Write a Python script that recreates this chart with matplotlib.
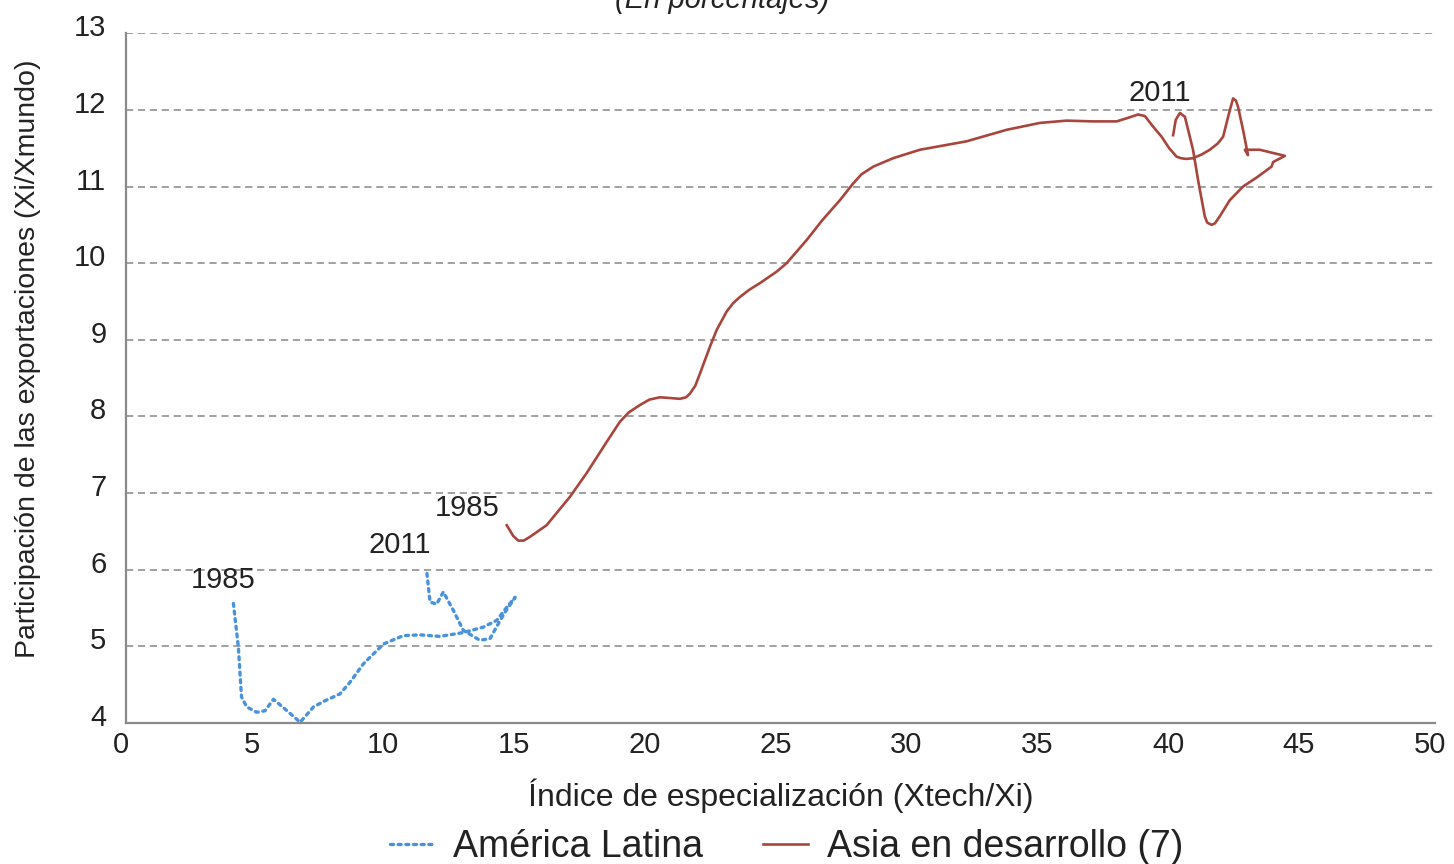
#!/usr/bin/env python

import matplotlib
matplotlib.use("Agg")
from matplotlib import pyplot as plt
from matplotlib.transforms import ScaledTranslation

## America Latina (1985 -> 2011)
la_x = [4.11, 4.30, 4.42, 4.62, 5.00, 5.32, 5.64, 6.09, 6.66, 7.17, 7.61, 8.18,
        8.56, 9.07, 9.84, 10.60, 11.24, 12.00, 12.89, 13.65, 14.17, 14.55, 14.87,
        14.55, 14.30, 13.91, 13.52, 12.89, 12.51, 12.13, 11.87, 11.62, 11.49]
la_y = [5.56, 4.99, 4.34, 4.21, 4.14, 4.16, 4.31, 4.18, 4.01, 4.21, 4.29, 4.38,
        4.53, 4.77, 5.03, 5.14, 5.15, 5.13, 5.18, 5.25, 5.34, 5.51, 5.64,
        5.48, 5.34, 5.10, 5.08, 5.21, 5.47, 5.71, 5.55, 5.58, 5.99]

## Asia en desarrollo (1985 -> 2011)
asia_x = [14.55, 14.80, 14.99, 15.20, 15.44, 16.07, 16.96, 17.60, 18.37, 18.87,
          19.20, 19.64, 20.00, 20.40, 20.80, 21.17, 21.40, 21.55, 21.75, 21.93,
          22.31, 22.57, 22.95, 23.20, 23.46, 23.80, 24.22, 24.86, 25.24, 25.62,
          26.00, 26.60, 27.27, 27.78, 28.10, 28.55, 29.31, 30.33, 32.11, 33.64,
          34.91, 35.93, 36.95, 37.84, 38.22, 38.66, 38.92, 39.24, 39.56, 39.85,
          40.13, 40.30, 40.50, 40.76, 41.10, 41.40, 41.70, 41.91, 42.10, 42.29,
          42.40, 42.48, 42.67, 42.86, 42.74, 43.31, 44.27, 43.82, 43.76, 43.20,
          42.67, 42.16, 41.78, 41.60, 41.47, 41.30, 41.21, 40.95, 40.76, 40.45,
          40.26, 40.10, 40.00]
asia_y = [6.58, 6.44, 6.38, 6.38, 6.43, 6.58, 6.95, 7.26, 7.67, 7.93,
          8.05, 8.15, 8.22, 8.25, 8.24, 8.23, 8.25, 8.30, 8.40, 8.56,
          8.91, 9.13, 9.37, 9.48, 9.56, 9.65, 9.74, 9.89, 10.00, 10.15,
          10.30, 10.56, 10.82, 11.04, 11.16, 11.26, 11.37, 11.48, 11.59, 11.74,
          11.83, 11.86, 11.85, 11.85, 11.89, 11.94, 11.92, 11.78, 11.65, 11.50,
          11.39, 11.37, 11.36, 11.37, 11.42, 11.48, 11.56, 11.65, 11.91, 12.15,
          12.12, 12.04, 11.74, 11.41, 11.48, 11.48, 11.40, 11.32, 11.26, 11.12,
          11.00, 10.82, 10.61, 10.52, 10.50, 10.53, 10.61, 11.09, 11.48, 11.91,
          11.96, 11.87, 11.67]

## Etiquetas de anio (texto, x, y)
year_labels = [("1985", 3.72, 5.87), ("2011", 10.48, 6.32),
               ("1985", 13.03, 6.81), ("2011", 39.49, 12.22)]

x_ticks = [0, 5, 10, 15, 20, 25, 30, 35, 40, 45, 50]
y_ticks = [4, 5, 6, 7, 8, 9, 10, 11, 12, 13]

plt.rcParams["font.family"] = ["Liberation Sans", "DejaVu Sans"]
TXT = "#222222"
GRID = "#9a9a9a"


def main():
    fig = plt.figure(figsize=(14.54, 8.64), dpi=100)
    ax = fig.add_axes([0.0865, 0.1632, 0.9004, 0.7983])

    for y in y_ticks:
        ax.axhline(y, color=GRID, lw=1.3, ls=(0, (4, 2.6)), zorder=1)

    ax.plot(la_x, la_y, color="#4a93dc", lw=2.4, ls=(0, (0.9, 1.4)),
            dash_capstyle="round", label="América Latina", zorder=3)
    ax.plot(asia_x, asia_y, color="#a8453d", lw=1.9, solid_joinstyle="round",
            label="Asia en desarrollo (7)", zorder=3)

    for txt, x, y in year_labels:
        ax.text(x, y, txt, ha="center", va="center", fontsize=21, color=TXT)

    ax.set_xlim(0, 50)
    ax.set_ylim(4, 13)
    ax.set_xticks(x_ticks)
    ax.set_yticks(y_ticks)
    ax.tick_params(length=0, labelsize=21, labelcolor=TXT)
    ax.tick_params(axis="x", pad=6)
    ax.tick_params(axis="y", pad=14)
    for lab in ax.get_yticklabels():
        lab.set_transform(lab.get_transform() +
                          ScaledTranslation(0, 0.08, fig.dpi_scale_trans))
    for lab in ax.get_xticklabels():
        lab.set_transform(lab.get_transform() +
                          ScaledTranslation(-0.05, 0, fig.dpi_scale_trans))

    for s in ["top", "right"]:
        ax.spines[s].set_visible(False)
    for s in ["left", "bottom"]:
        ax.spines[s].set_color("#8a8a8a")
        ax.spines[s].set_linewidth(1.6)
        ax.spines[s].set_zorder(2)

    ax.set_xlabel("Índice de especialización (Xtech/Xi)", fontsize=23,
                  color=TXT, labelpad=14)
    ax.set_ylabel("Participación de las exportaciones (Xi/Xmundo)",
                  fontsize=20.5, color=TXT, va="center")
    ax.yaxis.set_label_coords(-0.075, 0.528)

    fig.text(0.4966, 1 - 8 / 864, "(En porcentajes)", ha="center",
             va="baseline", fontsize=21, style="italic", color=TXT)

    fig.legend(loc="center", bbox_to_anchor=(0.541, 0.02), ncol=2,
               frameon=False, fontsize=27, handlelength=1.2,
               handletextpad=0.5, columnspacing=1.6, labelcolor=TXT)

    fig.savefig("out.png", dpi=100)


if __name__ == "__main__":
    main()
